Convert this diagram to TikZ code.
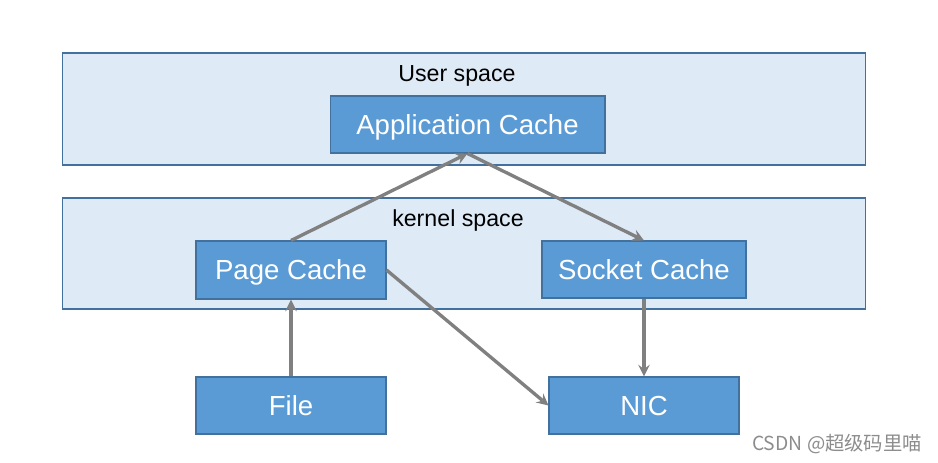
\documentclass[tikz,border=0pt]{standalone}
\usepackage{fontspec}
\setmainfont{Liberation Sans}
\newfontfamily\cjkfont{Noto Sans CJK SC}
\usetikzlibrary{arrows}
\definecolor{panelfill}{HTML}{DEEBF7}
\definecolor{boxfill}{HTML}{5B9BD5}
\definecolor{boxline}{HTML}{41719C}
\definecolor{arrowgray}{HTML}{808080}
\tikzstyle{space} = [rectangle, minimum width = 16.08cm, minimum height = 2.24cm, draw = boxline, fill = panelfill, line width = 0.6pt, inner sep = 0pt]
\tikzstyle{spacelabel} = [font = \fontsize{13.2}{15}\selectfont, text = black, inner sep = 0pt, text height = 9.5pt, text depth = 0pt]
\tikzstyle{cache} = [rectangle, minimum width = 3.8cm, minimum height = 1.14cm, text centered, draw = boxline, fill = boxfill, line width = 0.6pt, text = white, font = \fontsize{15.7}{18}\selectfont, inner sep = 0pt, text height = 11.2pt, text depth = 0pt]
\tikzstyle{arrow} = [line width = 1.9pt, ->, >=stealth, draw = arrowgray]

\begin{document}
\begin{tikzpicture}[x = 0.02cm, y = -0.02cm]
	\useasboundingbox (0,0) rectangle (938,463);

	\node[space](User)at(464,109){};
	\node[space,minimum height = 2.22cm](Kernel)at(464,253.5){};
	\node[spacelabel](User label)at(457,73){User space};
	\node[spacelabel](Kernel label)at(458,218){kernel space};

	\node[cache,minimum width = 5.5cm](App Cache)at(467.5,124.5){Application Cache};
	\node[cache,minimum height = 1.16cm](Page Cache)at(291,270){Page Cache};
	\node[cache,minimum width = 4.08cm](Socket Cache)at(644,269.5){Socket Cache};
	\node[cache](File)at(291,405.5){File};
	\node[cache](NIC)at(644,405.5){NIC};

	\draw [arrow](Page Cache.north)--(App Cache.south);
	\draw [arrow](App Cache.south)--(Socket Cache.north);
	\draw [arrow](Page Cache.east)--(NIC.west);
	\draw [arrow](File)--(Page Cache);
	\draw [arrow](Socket Cache)--(NIC);

	\node[text = black!45, font = \cjkfont\fontsize{11}{12}\selectfont, inner sep = 0pt](Mark)at(837,444){CSDN @超级码里喵};

\end{tikzpicture}
\end{document}
